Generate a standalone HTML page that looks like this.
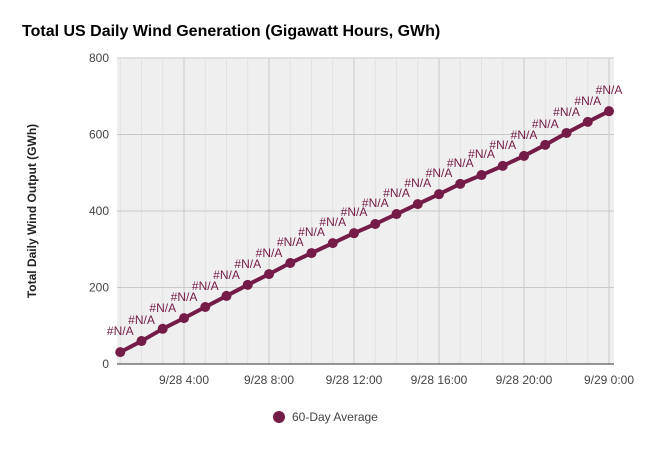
<!DOCTYPE html>
<html><head><meta charset="utf-8"><style>
body{margin:0;background:#fff;font-family:"Liberation Sans",Roboto,sans-serif}
svg text{font-family:"Liberation Sans",sans-serif}
</style></head><body>
<svg id="c" width="649" height="450">
<rect width="649" height="450" fill="#fff"/>
<text x="22" y="36" font-size="16" font-weight="bold" fill="#000">Total US Daily Wind Generation (Gigawatt Hours, GWh)</text>
<text transform="translate(36,211) rotate(-90)" text-anchor="middle" font-size="12" font-weight="bold" fill="#222">Total Daily Wind Output (GWh)</text>
<g id="plot"></g>
<g>
<circle cx="279" cy="417" r="6" fill="#741b47"/>
<text x="292" y="421" font-size="12" fill="#444">60-Day Average</text>
</g>
</svg>
<script>
const hours=[1,2,3,4,5,6,7,8,9,10,11,12,13,14,15,16,17,18,19,20,21,22,23,24];
const values=[31,60,92,120,149,178,207,235,264,290,316,342,366,392,418,444,471,494,518,544,573,604,633,661];
const yTicks=[0,200,400,600,800];
const xTicks=[4,8,12,16,20,24];
const xTickLabels=["9/28 4:00","9/28 8:00","9/28 12:00","9/28 16:00","9/28 20:00","9/29 0:00"];
const pointLabel="#N/A";
const L=117,R=614,T=58,B=364;
const x=h=>99+h*21.25;
const y=v=>B-(v-0)/800*(B-T);
const NS="http://www.w3.org/2000/svg";
const g=document.getElementById('plot');
function mk(t,a,p){const e=document.createElementNS(NS,t);for(const k in a)e.setAttribute(k,a[k]);(p||g).appendChild(e);return e;}
const bg=mk('rect',{x:L,y:T,width:R-L,height:B-T,fill:'#efefef'});


for(let h=1;h<=24;h++){if(h%4)mk('line',{x1:x(h),x2:x(h),y1:T,y2:B,stroke:'#e2e2e2','stroke-width':1});}
yTicks.forEach(v=>{
 const l=mk('line',{x1:L,x2:R,y1:y(v),y2:y(v),stroke:v===0?'#333':'#c8c8c8','stroke-width':1});
 
 
 const t=mk('text',{x:L-8,y:y(v)+4,'text-anchor':'end','font-size':12,fill:'#444'});
 t.textContent=v;
 
 
});
xTicks.forEach((h,i)=>{
 const l=mk('line',{x1:x(h),x2:x(h),y1:T,y2:B,stroke:'#c8c8c8','stroke-width':1});
 
 
 const t=mk('text',{x:x(h),y:B+20,'text-anchor':'middle','font-size':12,fill:'#444'});
 t.textContent=xTickLabels[i];
 
 
});
mk('line',{x1:L,x2:R,y1:B,y2:B,stroke:'#333','stroke-width':1});
const pts=hours.map((h,i)=>x(h)+','+y(values[i])).join(' ');
const line=mk('polyline',{points:pts,fill:'none',stroke:'#741b47','stroke-width':4,'stroke-linejoin':'round'});


hours.forEach((h,i)=>{
 const c=mk('circle',{cx:x(h),cy:y(values[i]),r:5,fill:'#741b47'});
 
 
 const t=mk('text',{x:x(h),y:y(values[i])-17,'text-anchor':'middle','font-size':12,fill:'#741b47'});
 t.textContent=pointLabel;
 
 
});
</script>
</body></html>
